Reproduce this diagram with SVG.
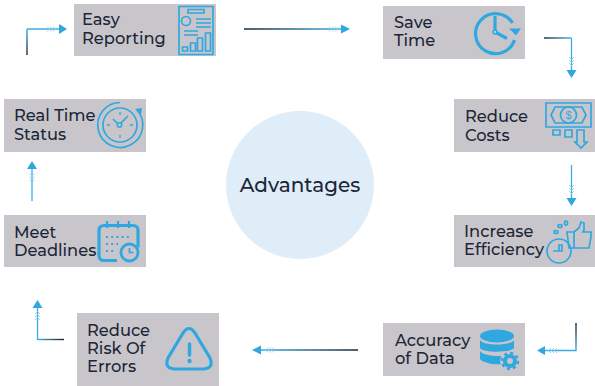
<svg xmlns="http://www.w3.org/2000/svg" width="595" height="386" viewBox="0 0 595 386">
<style>
.box{fill:#c9c6cb}
.t{font-family:"Montserrat","Liberation Sans",sans-serif;font-size:16.3px;font-weight:500;fill:#1c2638}
.i{fill:none;stroke:#2fa8e0;stroke-width:1.7}
.f{fill:#2fa8e0}
.w{fill:none;stroke:#2fa8e0;stroke-width:3.2}
.c{fill:none;stroke:#3cabe2;stroke-width:1.3}
.l{fill:none;stroke-width:1.4}
.s{fill:none;stroke:#8fd0ef;stroke-width:.9}
</style>
<defs>
<linearGradient id="g1" gradientUnits="userSpaceOnUse" x1="0" y1="55" x2="0" y2="29"><stop offset="0" stop-color="#1a2638"/><stop offset="1" stop-color="#3cabe2"/></linearGradient>
<linearGradient id="g2" gradientUnits="userSpaceOnUse" x1="244" y1="0" x2="340" y2="0"><stop offset="0" stop-color="#1a2638"/><stop offset="1" stop-color="#3cabe2"/></linearGradient>
<linearGradient id="g3" gradientUnits="userSpaceOnUse" x1="544" y1="0" x2="571" y2="0"><stop offset="0" stop-color="#1a2638"/><stop offset="1" stop-color="#3cabe2"/></linearGradient>
<linearGradient id="g4" gradientUnits="userSpaceOnUse" x1="0" y1="323" x2="0" y2="350"><stop offset="0" stop-color="#1a2638"/><stop offset="1" stop-color="#3cabe2"/></linearGradient>
<linearGradient id="g5" gradientUnits="userSpaceOnUse" x1="358" y1="0" x2="262" y2="0"><stop offset="0" stop-color="#1a2638"/><stop offset="1" stop-color="#3cabe2"/></linearGradient>
<linearGradient id="g6" gradientUnits="userSpaceOnUse" x1="64" y1="0" x2="38" y2="0"><stop offset="0" stop-color="#1a2638"/><stop offset="1" stop-color="#3cabe2"/></linearGradient>
</defs>
<g id="connectors">
<path class="l" stroke="url(#g1)" d="M27 55V29"/><path class="c" d="M27 29H60"/><path class="s" d="M47 26.500l2.500 2.500-2.500 2.500M50 26.500l2.500 2.500-2.500 2.500M53 26.500l2.500 2.500-2.500 2.500"/><path class="f" d="M59 24l8 5-8 5z"/>
<path class="l" stroke="url(#g2)" d="M244 29H341"/><path class="s" d="M329 26.500l2.500 2.500-2.500 2.500M332 26.500l2.500 2.500-2.500 2.500M335 26.500l2.500 2.500-2.500 2.500"/><path class="f" d="M341 24.500l9 4.500-9 4.500z"/>
<path class="l" stroke="url(#g3)" d="M544 38H571.500"/><path class="c" d="M571.500 38V70"/><path class="s" d="M569 57l2.500 2.500 2.500-2.500M569 60l2.500 2.500 2.500-2.500M569 63l2.500 2.500 2.500-2.500"/><path class="f" d="M566.500 70h10l-5 8z"/>
<path class="c" d="M571.500 165V198"/><path class="s" d="M569 185l2.500 2.500 2.500-2.500M569 188l2.500 2.500 2.500-2.500M569 191l2.500 2.500 2.500-2.500"/><path class="f" d="M566.500 198h10l-5 8z"/>
<path class="l" stroke="url(#g4)" d="M576 323V350.500"/><path class="c" d="M576.600 350.500H544"/><path class="s" d="M557 348l-2.500 2.500 2.500 2.500M554 348l-2.500 2.500 2.500 2.500M551 348l-2.500 2.500 2.500 2.500"/><path class="f" d="M545 346l-8 4.500 8 4.500z"/>
<path class="l" stroke="url(#g5)" d="M358 350H261"/><path class="s" d="M274 347.500l-2.500 2.500 2.500 2.500M271 347.500l-2.500 2.500 2.500 2.500M268 347.500l-2.500 2.500 2.500 2.500"/><path class="f" d="M261 345.500l-9 4.500 9 4.500z"/>
<path class="l" stroke="url(#g6)" d="M64 339.500H37.500"/><path class="c" d="M37.500 340V308"/><path class="s" d="M35 320l2.500-2.500 2.500 2.500M35 317l2.500-2.500 2.500 2.500M35 314l2.500-2.500 2.500 2.500"/><path class="f" d="M32.500 308h10l-5-8z"/>
<path class="c" d="M32 201V168"/><path class="s" d="M29.500 181l2.500-2.500 2.500 2.500M29.500 178l2.500-2.500 2.500 2.500M29.500 175l2.500-2.500 2.500 2.500"/><path class="f" d="M27 169h10l-5-8z"/>
</g>
<g id="center"><circle cx="300" cy="185" r="74" fill="#dfedf8"/><text x="300" y="192" text-anchor="middle" style="font-family:'Montserrat','Liberation Sans',sans-serif;font-size:20px;font-weight:500;fill:#1c2638">Advantages</text></g>
<g id="easy-reporting"><rect class="box" x="74" y="4" width="142" height="52"/><text class="t" x="82" y="25">Easy</text><text class="t" x="82" y="44">Reporting</text>
<path class="i" d="M179 6.500h34v48h-34zM188 9.500h16v3.500h-16zM196 19h15M196 23h15M196 27h15M184 31h14M184 35h14"/><circle class="i" cx="186" cy="21" r="4.500"/><path class="i" d="M182.500 51h5v-4h-5zM190.500 51h5v-8h-5zM197.500 51h5v-13h-5zM205.500 51h5v-18h-5z"/></g>
<g id="save-time"><rect class="box" x="383" y="6" width="142" height="53"/><text class="t" x="394" y="28">Save</text><text class="t" x="394" y="46">Time</text>
<path class="w" d="M514.500 40A20 20 0 1 1 512.500 23"/><path class="w" d="M495 16v16l12 6.500"/><circle cx="495" cy="32" r="2" fill="#c9c6cb" stroke="#2fa8e0" stroke-width="1.500"/><path class="f" d="M509 28.500l12 0-5 7z"/></g>
<g id="reduce-costs"><rect class="box" x="454" y="99" width="141" height="53"/><text class="t" x="465" y="122">Reduce</text><text class="t" x="465" y="141">Costs</text>
<path class="i" d="M546 103h45v24h-45zM555 107h27l4 8-4 8h-27l-4-8zM553 130h7v5h-7zM565 130h7v7h-7zM577 130h7v12h3l-6 6-6-6h2z"/><circle class="i" cx="568.500" cy="115" r="8"/><text x="568.500" y="119" text-anchor="middle" style="font-family:'Liberation Sans',sans-serif;font-size:11px;fill:#2fa8e0">$</text></g>
<g id="increase-efficiency"><rect class="box" x="454" y="215" width="141" height="52"/><text class="t" x="464" y="237">Increase</text><text class="t" x="464" y="255">Efficiency</text>
<circle class="i" cx="559" cy="251" r="12"/><path class="i" d="M567 232h7v16h-5zM574 232l5-4 2-6 3 1v7l-1 2h8v5l-2 11h-15"/><ellipse class="i" cx="556" cy="232" rx="2" ry="1.500"/><ellipse class="i" cx="560" cy="226" rx="2" ry="1.500"/><ellipse class="i" cx="566" cy="223" rx="1.500" ry="2"/><path class="i" d="M553 251h6v-6h3v6h-3"/></g>
<g id="accuracy-of-data"><rect class="box" x="383" y="323" width="142" height="53"/><text class="t" x="395" y="346">Accuracy</text><text class="t" x="395" y="364">of Data</text>
<ellipse class="f" cx="497" cy="336" rx="17" ry="6.500"/><path class="f" d="M480 340c3 6 31 6 34 0v8c-3 5-31 5-34 0zM480 351c3 5 20 6 27 4l-4 9c-10 1-20-1-23-5z"/><circle cx="510" cy="361" r="5.500" fill="none" stroke="#c9c6cb" stroke-width="9"/><circle cx="510" cy="361" r="5" fill="none" stroke="#2fa8e0" stroke-width="4"/><circle cx="510" cy="361" r="8" fill="none" stroke="#2fa8e0" stroke-width="2.500" stroke-dasharray="3 3.280"/></g>
<g id="reduce-risk"><rect class="box" x="77" y="313" width="142" height="73"/><text class="t" x="87" y="336">Reduce</text><text class="t" x="87" y="354">Risk Of</text><text class="t" x="87" y="372">Errors</text>
<path class="w" d="M183 333q6-9 12 0l15 25q4 10-6 11h-30q-10-1-6-11z"/><path d="M189.500 344v11" stroke="#2fa8e0" stroke-width="3.500" stroke-linecap="round"/><circle class="f" cx="189.500" cy="361" r="2.200"/></g>
<g id="meet-deadlines"><rect class="box" x="4" y="215" width="142" height="52"/><text class="t" x="14" y="238">Meet</text><text class="t" x="14" y="256">Deadlines</text>
<path class="w" d="M117 260.500h-13q-5 0-5-5v-25q0-5 5-5h29q5 0 5 5v17"/><path class="i" style="stroke-width:2.200" d="M107 221v7M118 221v7M129 221v7"/><circle cx="129.500" cy="252.500" r="8.500" fill="#c9c6cb" stroke="#2fa8e0" stroke-width="2.800"/><path class="i" d="M129.500 248v4.500h4"/><path stroke="#2fa8e0" stroke-width="2" stroke-dasharray="2 3.200" fill="none" d="M106 237h24M106 244h12M106 251h8"/></g>
<g id="real-time-status"><rect class="box" x="4" y="99" width="142" height="53"/><text class="t" x="14" y="121">Real Time</text><text class="t" x="14" y="140">Status</text>
<circle class="i" cx="120" cy="125" r="17"/><path class="i" d="M137 110A22.500 22.500 0 1 1 120 102.500"/><path class="f" d="M135 109l7-1-1 7z"/><path class="i" d="M119 125l-6-6M119 125l9-9"/><circle cx="119.500" cy="125" r="2.200" fill="#c9c6cb" stroke="#2fa8e0" stroke-width="1.500"/><path stroke="#2fa8e0" stroke-width="1.300" fill="none" d="M120 112v3M120 135v3M107 125h3M130 125h3"/></g>
</svg>
